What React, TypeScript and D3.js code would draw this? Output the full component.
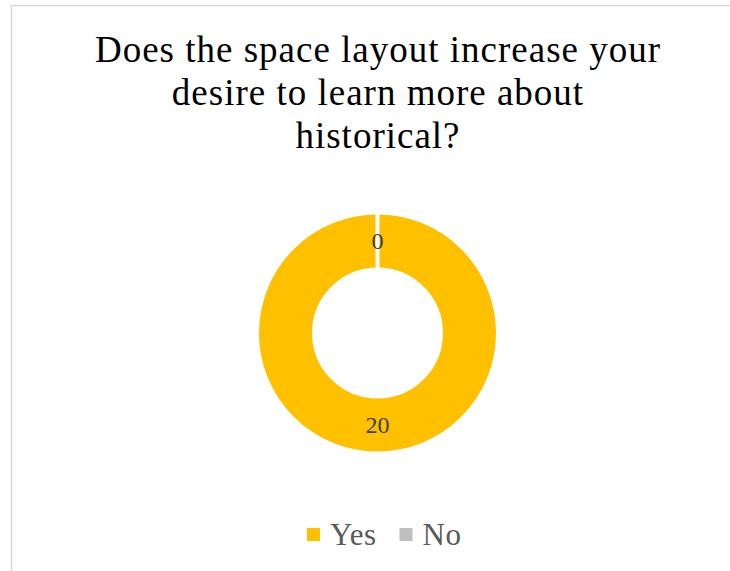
import React from "react";
import * as d3 from "d3";

const categories = ["Yes", "No"];
const values = [20, 0];
const colors = ["#FFC000", "#BFBFBF"];
const titleLines = ["Does the space layout increase your", "desire to learn more about", "historical?"];

export default function App() {
  const W = 730, H = 571;
  const cx = 377.5, cy = 333;
  const outer = 120.5, inner = 63.5;
  const pie = d3.pie<number>().sort(null).value((d) => d);
  const arcs = pie(values);
  const arcGen = d3.arc<d3.PieArcDatum<number>>().innerRadius(inner).outerRadius(outer);
  const labelArc = d3.arc<d3.PieArcDatum<number>>().innerRadius((inner + outer) / 2).outerRadius((inner + outer) / 2);
  const font = "'Liberation Serif', serif";
  return (
    <svg width={W} height={H} style={{ position: "absolute", left: 0, top: 0 }}>
      <rect x={0} y={0} width={W} height={H} fill="#fff" />
      <rect x={11.5} y={5.5} width={W + 20} height={H + 20} fill="#fff" stroke="#d9d9d9" strokeWidth={1.5} />
      {titleLines.map((t, i) => (
        <text key={i} x={378} y={62 + i * 43} textAnchor="middle" fontFamily={font} fontSize={37} letterSpacing={1} fill="#000">
          {t}
        </text>
      ))}
      <g transform={`translate(${cx},${cy})`}>
        {arcs.map((a, i) => (
          <path key={i} d={arcGen(a) || ""} fill={colors[i]} stroke="#fff" strokeWidth={4} />
        ))}
        {arcs.map((a, i) => {
          const [x, y] = labelArc.centroid(a);
          return (
            <text key={"l" + i} x={x} y={y} dy="0.35em" textAnchor="middle" fontFamily={font} fontSize={24} fill="#404040">
              {values[i]}
            </text>
          );
        })}
      </g>
      <g>
        {categories.map((c, i) => {
          const x0 = i === 0 ? 307 : 399.5;
          return (
            <g key={c}>
              <rect x={x0} y={528} width={13} height={13} fill={colors[i]} />
              <text x={x0 + 23} y={545} fontFamily={font} fontSize={31} letterSpacing={0.5} fill="#595959">
                {c}
              </text>
            </g>
          );
        })}
      </g>
    </svg>
  );
}
